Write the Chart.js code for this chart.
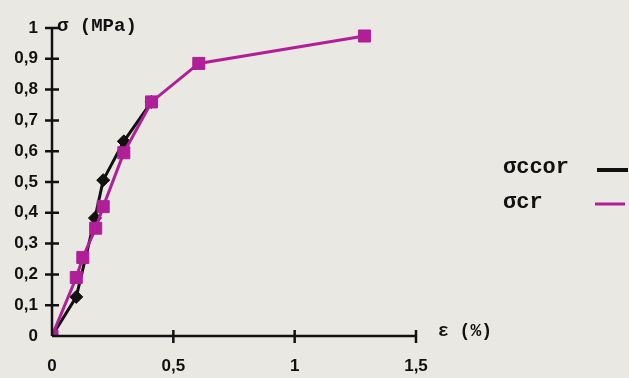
<!DOCTYPE html>
<html>
<head>
<meta charset="utf-8">
<script src="https://cdn.jsdelivr.net/npm/chart.js@4.4.1/dist/chart.umd.min.js"></script>
<style>
  html, body { margin: 0; padding: 0; background: #e9e8e3; }
  #wrap { width: 629px; height: 378px; position: relative; }
</style>
</head>
<body>
<div id="wrap"><canvas id="c" width="629" height="378"></canvas></div>
<script>
// Strain (%) and stress (MPa) readings for the two curves
const strainCcor = [0, 0.10, 0.177, 0.211, 0.296, 0.41];
const stressCcor = [0, 0.127, 0.383, 0.506, 0.632, 0.76];
const strainCr = [0, 0.10, 0.127, 0.18, 0.211, 0.296, 0.41, 0.605, 1.288];
const stressCr = [0, 0.19, 0.255, 0.35, 0.42, 0.595, 0.76, 0.885, 0.974];

const xTicks = [0, 0.5, 1, 1.5];
const yTicks = [0, 0.1, 0.2, 0.3, 0.4, 0.5, 0.6, 0.7, 0.8, 0.9, 1];

const seriesNames = ['σccor', 'σcr'];
const BLACK = '#111111';
const MAGENTA = '#b01f98';

const pts = (xs, ys) => xs.map((x, i) => ({ x, y: ys[i] }));
const fmt = v => String(Math.round(v * 10) / 10).replace('.', ',');

const tickFont = { family: 'Liberation Sans, Arial, sans-serif', size: 17, weight: 'bold' };
const monoBold = size => `bold ${size}px "Liberation Mono", "Courier New", monospace`;

// Axes drawn as lines with ticks crossing both sides, plus titles and legend
const decor = {
  id: 'decor',
  afterDatasetsDraw(chart) {
    const { ctx, scales: { x, y } } = chart;
    const x0 = x.getPixelForValue(0), x1 = x.getPixelForValue(1.5);
    const y0 = y.getPixelForValue(0), y1 = y.getPixelForValue(1);
    ctx.save();
    ctx.strokeStyle = BLACK;
    ctx.lineWidth = 2.5;
    ctx.lineCap = 'butt';
    ctx.beginPath();
    ctx.moveTo(x0, y0); ctx.lineTo(x0, y1);
    ctx.moveTo(x0, y0); ctx.lineTo(x1, y0);
    yTicks.forEach(v => {
      if (v === 0) return;
      const py = y.getPixelForValue(v);
      ctx.moveTo(x0 - 7, py); ctx.lineTo(x0 + 7, py);
    });
    xTicks.forEach(v => {
      if (v === 0) return;
      const px = x.getPixelForValue(v);
      ctx.moveTo(px, y0 - 6); ctx.lineTo(px, y0 + 7);
    });
    ctx.stroke();

    ctx.fillStyle = BLACK;
    ctx.textBaseline = 'middle';
    ctx.textAlign = 'left';
    ctx.font = monoBold(19);
    ctx.fillText('σ (MPa)', x0 + 5, y1 - 2);
    ctx.font = monoBold(18);
    ctx.fillText('ε (%)', 438, 331);

    // legend
    ctx.font = monoBold(22);
    ctx.fillText(seriesNames[0], 503, 167);
    ctx.fillText(seriesNames[1], 503, 202);
    ctx.lineWidth = 4;
    ctx.beginPath(); ctx.moveTo(597, 170); ctx.lineTo(628, 170); ctx.stroke();
    ctx.strokeStyle = MAGENTA;
    ctx.lineWidth = 3;
    ctx.beginPath(); ctx.moveTo(595, 204); ctx.lineTo(625, 204); ctx.stroke();
    ctx.restore();
  }
};

new Chart(document.getElementById('c'), {
  type: 'scatter',
  data: {
    datasets: [
      {
        label: seriesNames[0],
        data: pts(strainCcor, stressCcor),
        showLine: true,
        borderColor: BLACK,
        backgroundColor: BLACK,
        borderWidth: 3,
        pointStyle: 'rectRot',
        pointRadius: 6.5,
        pointBorderWidth: 1,
        order: 1
      },
      {
        label: seriesNames[1],
        data: pts(strainCr, stressCr),
        showLine: true,
        borderColor: MAGENTA,
        backgroundColor: MAGENTA,
        borderWidth: 3,
        pointStyle: 'rect',
        pointRadius: 8.5,
        pointBorderWidth: 1,
        order: 0
      }
    ]
  },
  options: {
    responsive: false,
    animation: false,
    events: [],
    layout: { padding: { top: 28, right: 213, left: 0, bottom: 0 } },
    plugins: { legend: { display: false }, tooltip: { enabled: false } },
    scales: {
      x: {
        type: 'linear', min: 0, max: 1.5,
        afterBuildTicks: s => { s.ticks = xTicks.map(v => ({ value: v })); },
        afterFit: s => { s.height = 42; },
        grid: { display: false, drawTicks: false },
        border: { display: false },
        ticks: { color: BLACK, font: tickFont, padding: 20, maxRotation: 0, callback: v => fmt(v) }
      },
      y: {
        type: 'linear', min: 0, max: 1,
        afterBuildTicks: s => { s.ticks = yTicks.map(v => ({ value: v })); },
        afterFit: s => { s.width = 52; },
        grid: { display: false, drawTicks: false },
        border: { display: false },
        ticks: { color: BLACK, font: tickFont, padding: 14, callback: v => fmt(v) }
      }
    }
  },
  plugins: [decor]
});
</script>
</body>
</html>
